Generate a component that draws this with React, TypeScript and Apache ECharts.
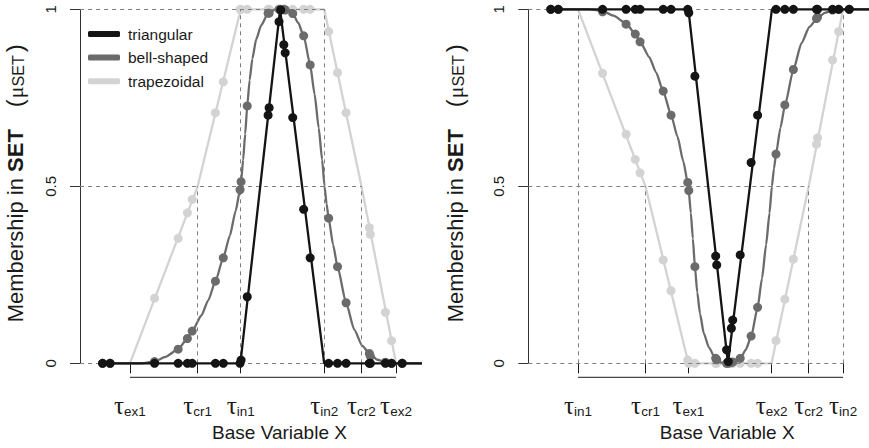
import React, { useEffect, useRef } from 'react';
import * as echarts from 'echarts';

// ---------- data ----------
const X_MIN = 0;
const X_MAX = 100;
const yTicks = [0, 0.5, 1];

// tau positions (same numeric positions on both panels)
const tauValues = [14.6, 34.4, 47.0, 71.4, 82.3, 92.4];
const leftTauNames = ['ex1', 'cr1', 'in1', 'in2', 'cr2', 'ex2'];
const rightTauNames = ['in1', 'cr1', 'ex1', 'ex2', 'cr2', 'in2'];

// sampled observations (x positions shared by all series)
const sampleX = [6.6, 8.8, 21.8, 28.7, 31.4, 32.8, 39.6, 41.9, 46.8, 47.1, 48.9, 55.0, 55.3, 58.2, 58.7, 59.6, 60.0, 62.2, 65.4, 67.3, 72.7, 75.3, 77.8, 84.6, 84.9, 89.3, 91.1, 94.2];

const leftTriPts = [0, 0, 0, 0, 0, 0, 0, 0, 0, 0.009, 0.188, 0.701, 0.722, 0.965, 0.998, 0.9, 0.877, 0.694, 0.435, 0.298, 0, 0, 0, 0, 0, 0, 0, 0];
const leftBellPts = [0, 0, 0.005, 0.04, 0.07, 0.091, 0.232, 0.298, 0.49, 0.513, 0.727, 0.989, 0.989, 1, 1, 1, 0.998, 0.988, 0.925, 0.843, 0.41, 0.273, 0.171, 0.028, 0.02, 0.003, 0, 0];
const leftTrapPts = [0, 0, 0.184, 0.353, 0.425, 0.463, 0.708, 0.795, 1, 1, 1, 1, 1, 1, 1, 1, 1, 1, 1, 1, 0.937, 0.821, 0.708, 0.383, 0.364, 0.144, 0.064, 0];

const rightTriPts = [1, 1, 1, 1, 1, 1, 1, 1, 1, 0.99, 0.811, 0.303, 0.278, 0.038, 0.005, 0.099, 0.122, 0.306, 0.567, 0.701, 1, 1, 1, 1, 1, 1, 1, 1];
const rightBellPts = [1, 1, 0.993, 0.958, 0.93, 0.908, 0.769, 0.701, 0.511, 0.488, 0.273, 0.014, 0.01, 0, 0, 0.002, 0.004, 0.014, 0.077, 0.158, 0.591, 0.73, 0.83, 0.974, 0.978, 0.998, 1, 1];
const rightTrapPts = [1, 1, 0.819, 0.647, 0.576, 0.538, 0.292, 0.205, 0.009, 0, 0, 0, 0, 0, 0, 0, 0, 0, 0, 0, 0.064, 0.181, 0.294, 0.619, 0.637, 0.857, 0.937, 1];

// membership curves (vertices)
const trapLineX = [6.6, 14.6, 34.4, 47.0, 71.4, 82.3, 92.4, 100];
const leftTrapLineY = [0, 0, 0.5, 1, 1, 0.5, 0, 0];
const rightTrapLineY = [1, 1, 0.5, 0, 0, 0.5, 1, 1];

const leftTriLineX = [6.6, 46.9, 58.5, 71.4, 100];
const leftTriLineY = [0, 0, 1, 0, 0];
const rightTriLineX = [6.6, 47.0, 58.6, 71.5, 100];
const rightTriLineY = [1, 1, 0, 1, 1];

const bellLineX = [6.6, 18, 21.8, 25, 28.7, 31.4, 32.8, 35.5, 37.5, 39.6, 41.9, 43.8, 45.5, 46.8, 47.1, 47.7, 48.3, 48.9, 49.6, 50.4, 51.5, 53, 55, 57, 58.8, 60.6, 62.2, 63.8, 65.4, 67.3, 68.6, 69.8, 70.8, 71.5, 72.1, 72.7, 74, 75.3, 77.8, 80.2, 82.5, 84.6, 87, 89.3, 91, 100];
const leftBellLineY = [0, 0, 0.005, 0.018, 0.04, 0.07, 0.091, 0.135, 0.178, 0.232, 0.298, 0.36, 0.43, 0.49, 0.513, 0.575, 0.648, 0.727, 0.8, 0.86, 0.915, 0.955, 0.989, 0.999, 1, 0.998, 0.988, 0.962, 0.925, 0.843, 0.76, 0.665, 0.575, 0.5, 0.45, 0.41, 0.335, 0.273, 0.171, 0.095, 0.05, 0.028, 0.01, 0.003, 0, 0];
const rightBellLineY = [1, 1, 0.995, 0.982, 0.96, 0.93, 0.909, 0.865, 0.822, 0.768, 0.702, 0.64, 0.57, 0.51, 0.487, 0.425, 0.352, 0.273, 0.2, 0.14, 0.085, 0.045, 0.011, 0.001, 0, 0.002, 0.012, 0.038, 0.075, 0.157, 0.24, 0.335, 0.425, 0.5, 0.55, 0.59, 0.665, 0.727, 0.829, 0.905, 0.95, 0.972, 0.99, 0.997, 1, 1];

// dashed guide lines
const leftHGuideY = [1, 0.5, 0];
const leftHGuideEnd = [71.4, 82.3, 92.4];
const leftVGuideX = [34.4, 47.0, 71.4, 82.3];
const leftVGuideTop = [0.5, 1, 1, 0.5];
const rightHGuideY = [1, 0.5, 0];
const rightHGuideEnd = [92.4, 82.3, 92.4];
const rightVGuideX = [14.6, 34.4, 82.3, 92.4];
const rightVGuideTop = [1, 0.5, 0.5, 1];

const legendNames = ['triangular', 'bell-shaped', 'trapezoidal'];

// ---------- styles ----------
const FONT = 'Liberation Sans, Arial, Helvetica, sans-serif';
const C_TRI = '#141414';
const C_BELL = '#6b6b6b';
const C_TRAP = '#d3d3d3';
const C_GUIDE = '#808080';
const C_TEXT = '#1a1a1a';
const C_AXIS = '#333333';

const pairs = (xs: number[], ys: number[]) => xs.map((x, k) => [x, ys[k]]);

function guideData(hy: number[], hEnd: number[], vx: number[], vTop: number[]) {
  const out: any[] = [];
  hy.forEach((y, k) => out.push([{ coord: [X_MIN, y] }, { coord: [hEnd[k], y] }]));
  vx.forEach((x, k) => out.push([{ coord: [x, 0] }, { coord: [x, vTop[k]] }]));
  return out;
}

function lineSeries(name: string, idx: number, data: number[][], color: string, z: number, smooth: any, markLine?: any) {
  const s: any = {
    type: 'line', name, xAxisIndex: idx, yAxisIndex: idx, data,
    showSymbol: false, symbol: 'none', smooth, smoothMonotone: 'x', clip: false, z,
    lineStyle: { color, width: 2.3 }, itemStyle: { color },
    emphasis: { disabled: true }, silent: true,
  };
  if (markLine) s.markLine = markLine;
  return s;
}

function pointSeries(name: string, idx: number, data: number[][], color: string, z: number) {
  return {
    type: 'scatter', name, xAxisIndex: idx, yAxisIndex: idx, data,
    symbol: 'circle', symbolSize: 9, clip: false, z,
    itemStyle: { color, opacity: 1 }, emphasis: { disabled: true }, silent: true,
  };
}

const yTitle = '{r|Membership in }{b|SET}{sp|}{p|(}{m|μ}{sub|SET}{p2|)}';
const yTitleRich = {
  r: { fontSize: 22, fontFamily: FONT, color: C_TEXT, lineHeight: 26, verticalAlign: 'bottom' },
  b: { fontSize: 22, fontFamily: FONT, fontWeight: 'bold', color: C_TEXT, lineHeight: 26, verticalAlign: 'bottom' },
  sp: { width: 22, lineHeight: 26 },
  p: { fontSize: 24, fontFamily: FONT, color: C_TEXT, lineHeight: 26, verticalAlign: 'bottom', padding: [0, 1, 0, 0] },
  p2: { fontSize: 24, fontFamily: FONT, color: C_TEXT, lineHeight: 26, verticalAlign: 'bottom', padding: [0, 0, 0, 3] },
  m: { fontSize: 22, fontFamily: 'Liberation Serif, serif', color: C_TEXT, lineHeight: 26, verticalAlign: 'bottom' },
  sub: { fontSize: 16, fontFamily: FONT, color: C_TEXT, lineHeight: 15, verticalAlign: 'bottom' },
};

function tauFormatter(names: string[]) {
  return (v: number) => {
    let best = 0;
    tauValues.forEach((t, k) => { if (Math.abs(t - v) < Math.abs(tauValues[best] - v)) best = k; });
    return '{t|τ}{s|' + names[best] + '}';
  };
}

function makePanel(idx: number, names: string[], tri: number[], bell: number[], trap: number[],
  triLX: number[], triLY: number[], bellLY: number[], trapLY: number[], guides: any[], nameGap: number) {
  const xAxis = {
    gridIndex: idx, type: 'value', min: X_MIN, max: X_MAX, offset: 14,
    axisLine: { show: false },
    axisTick: { show: true, length: 10, customValues: tauValues, lineStyle: { color: C_TEXT, width: 1 } },
    axisLabel: {
      customValues: tauValues, margin: 17, formatter: tauFormatter(names),
      rich: {
        t: { fontSize: 25, fontFamily: 'Liberation Serif, serif', color: C_TEXT, lineHeight: 24, verticalAlign: 'bottom' },
        s: { fontSize: 13.5, fontFamily: FONT, color: C_TEXT, lineHeight: 14, verticalAlign: 'bottom' },
      },
    },
    splitLine: { show: false },
    name: 'Base Variable X', nameLocation: 'middle', nameGap: 46,
    nameTextStyle: { fontSize: 19, fontFamily: FONT, color: C_TEXT, padding: [0, 0, 0, 57] },
  };
  const yAxis = {
    gridIndex: idx, type: 'value', min: 0, max: 1, interval: 0.5,
    axisLine: { show: true, lineStyle: { color: C_AXIS, width: 1 } },
    axisTick: { show: true, length: 10, lineStyle: { color: C_AXIS, width: 1 } },
    axisLabel: {
      rotate: 90, margin: 22, fontSize: 15, fontFamily: FONT, color: C_TEXT,
      formatter: (v: number) => (yTicks.indexOf(v) >= 0 ? String(v) : ''),
    },
    splitLine: { show: false },
    name: yTitle, nameLocation: 'middle', nameRotate: 90, nameGap,
    nameTextStyle: { rich: yTitleRich, padding: [0, 0, 0, 6] },
  };
  const markLine = {
    symbol: ['none', 'none'], silent: true, animation: false,
    label: { show: false },
    lineStyle: { color: C_GUIDE, type: [4, 4], width: 1 },
    emphasis: { disabled: true },
    data: guides,
  };
  const series = [
    lineSeries('trapezoidal', idx, pairs(trapLineX, trapLY), C_TRAP, 2, false, markLine),
    pointSeries('trapezoidal pts', idx, pairs(sampleX, trap), C_TRAP, 3),
    lineSeries('bell-shaped', idx, pairs(bellLineX, bellLY), C_BELL, 4, 0.2),
    pointSeries('bell-shaped pts', idx, pairs(sampleX, bell), C_BELL, 5),
    lineSeries('triangular', idx, pairs(triLX, triLY), C_TRI, 6, false),
    pointSeries('triangular pts', idx, pairs(sampleX, tri), C_TRI, 7),
  ];
  return { xAxis, yAxis, series };
}

export default function App() {
  const ref = useRef<HTMLDivElement>(null);
  useEffect(() => {
    if (!ref.current) return;
    const chart = echarts.init(ref.current, undefined, { renderer: 'svg' });
    const left = makePanel(0, leftTauNames, leftTriPts, leftBellPts, leftTrapPts,
      leftTriLineX, leftTriLineY, leftBellLineY, leftTrapLineY,
      guideData(leftHGuideY, leftHGuideEnd, leftVGuideX, leftVGuideTop), 54);
    const right = makePanel(1, rightTauNames, rightTriPts, rightBellPts, rightTrapPts,
      rightTriLineX, rightTriLineY, rightBellLineY, rightTrapLineY,
      guideData(rightHGuideY, rightHGuideEnd, rightVGuideX, rightVGuideTop), 62);
    const option: any = {
      animation: false,
      backgroundColor: '#ffffff',
      grid: [
        { left: 80, top: 9.3, width: 342, height: 354 },
        { left: 528.3, top: 9.3, width: 342, height: 354 },
      ],
      xAxis: [left.xAxis, right.xAxis],
      yAxis: [left.yAxis, right.yAxis],
      legend: {
        data: legendNames, orient: 'vertical', left: 83, top: 20,
        itemWidth: 32, itemHeight: 6, itemGap: 5.6, icon: 'roundRect',
        selectedMode: false,
        textStyle: { fontSize: 15.5, fontFamily: FONT, color: C_TEXT, lineHeight: 18, padding: [0, 0, 0, 3] },
      },
      series: [...left.series, ...right.series],
    };
    chart.setOption(option);
    const lines = [0, 1].map((i) => {
      const x1 = chart.convertToPixel({ xAxisIndex: i } as any, tauValues[0]) as number;
      const x2 = chart.convertToPixel({ xAxisIndex: i } as any, tauValues[tauValues.length - 1]) as number;
      const y = (chart.convertToPixel({ yAxisIndex: i } as any, 0) as number) + 14;
      return { type: 'line', silent: true, shape: { x1, y1: y, x2, y2: y }, style: { stroke: C_TEXT, lineWidth: 1 } };
    });
    chart.setOption({ graphic: lines });
    return () => chart.dispose();
  }, []);
  return <div ref={ref} style={{ position: 'fixed', left: 0, top: 0, width: 869, height: 448 }} />;
}
